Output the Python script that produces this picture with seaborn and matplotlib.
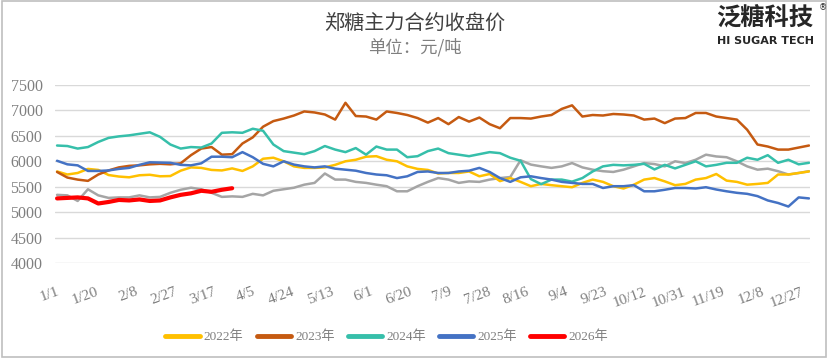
import matplotlib
matplotlib.use("Agg")
import matplotlib.pyplot as plt
import seaborn as sns
import pandas as pd
from matplotlib.patches import Rectangle

# 郑糖主力合约收盘价 (元/吨), one point every 5 days from 1/1
DAYS = list(range(0, 366, 5))

Y2021 = [5340, 5330, 5220, 5450, 5330, 5280, 5290, 5290, 5330, 5290,
         5300, 5380, 5440, 5480, 5450, 5380, 5300, 5310, 5300, 5360,
         5330, 5420, 5450, 5480, 5540, 5575, 5760, 5640, 5640, 5595,
         5575, 5540, 5510, 5410, 5410, 5510, 5595, 5670, 5640, 5575,
         5605, 5595, 5640, 5670, 5690, 6020, 5935, 5900, 5870, 5900,
         5965, 5880, 5835, 5805, 5790, 5835, 5900, 5965, 5945, 5900,
         6000, 5965, 6030, 6130, 6095, 6080, 6000, 5900, 5835, 5855,
         5805, 5740, 5770, 5805]

Y2022 = [5800, 5740, 5770, 5850, 5830, 5730, 5700, 5685, 5725, 5735,
         5705, 5710, 5815, 5880, 5870, 5830, 5820, 5860, 5810, 5900,
         6050, 6070, 6000, 5900, 5870, 5870, 5880, 5930, 6000, 6030,
         6090, 6100, 6030, 6000, 5900, 5850, 5830, 5760, 5770, 5770,
         5800, 5705, 5750, 5610, 5670, 5595, 5510, 5555, 5530, 5510,
         5490, 5575, 5640, 5595, 5510, 5465, 5540, 5640, 5670, 5605,
         5530, 5555, 5640, 5670, 5750, 5620, 5595, 5540, 5555, 5575,
         5740, 5740, 5770, 5800]

Y2023 = [5790, 5680, 5640, 5615, 5740, 5820, 5880, 5910, 5920, 5940,
         5950, 5940, 5960, 6120, 6250, 6280, 6130, 6140, 6350, 6470,
         6680, 6790, 6840, 6900, 6980, 6960, 6920, 6820, 7150, 6890,
         6880, 6820, 6980, 6950, 6910, 6850, 6760, 6850, 6730, 6870,
         6780, 6860, 6730, 6650, 6850, 6850, 6840, 6880, 6910, 7030,
         7100, 6880, 6910, 6900, 6930, 6920, 6900, 6820, 6840, 6750,
         6840, 6850, 6950, 6950, 6880, 6850, 6820, 6620, 6330, 6290,
         6230, 6230, 6270, 6310]

Y2024 = [6310, 6300, 6250, 6280, 6380, 6460, 6490, 6510, 6540, 6570,
         6480, 6330, 6250, 6280, 6270, 6350, 6560, 6570, 6560, 6640,
         6600, 6330, 6200, 6170, 6140, 6200, 6300, 6230, 6180, 6260,
         6130, 6290, 6230, 6230, 6080, 6100, 6200, 6250, 6160, 6130,
         6100, 6140, 6180, 6160, 6070, 6010, 5650, 5550, 5640, 5640,
         5600, 5670, 5800, 5900, 5930, 5920, 5930, 5950, 5840, 5930,
         5860, 5930, 6000, 5900, 5930, 5970, 5970, 6070, 6030, 6120,
         5970, 6030, 5940, 5970]

Y2025 = [6010, 5940, 5920, 5810, 5810, 5820, 5850, 5870, 5930, 5980,
         5975, 5970, 5930, 5920, 5960, 6090, 6090, 6080, 6180, 6080,
         5950, 5900, 6000, 5935, 5900, 5880, 5900, 5855, 5835, 5815,
         5770, 5740, 5725, 5670, 5705, 5790, 5800, 5770, 5770, 5800,
         5815, 5870, 5790, 5670, 5595, 5685, 5705, 5670, 5640, 5595,
         5575, 5555, 5555, 5475, 5510, 5510, 5530, 5410, 5410, 5440,
         5475, 5475, 5465, 5490, 5445, 5410, 5380, 5360, 5315, 5230,
         5180, 5110, 5290, 5270]

Y2026 = [5270, 5280, 5290, 5270, 5170, 5200, 5240, 5230, 5250, 5220,
         5230, 5290, 5340, 5370, 5420, 5400, 5440, 5470]

TICK_LABELS = ['1/1', '1/20', '2/8', '2/27', '3/17', '4/5', '4/24', '5/13',
               '6/1', '6/20', '7/9', '7/28', '8/16', '9/4', '9/23', '10/12',
               '10/31', '11/19', '12/8', '12/27']

SERIES = [
    ('2021年', Y2021, '#A5A5A5', 1.8),
    ('2022年', Y2022, '#FFC000', 1.8),
    ('2023年', Y2023, '#C55A11', 1.8),
    ('2024年', Y2024, '#36BFAA', 1.8),
    ('2025年', Y2025, '#4472C4', 1.8),
    ('2026年', Y2026, '#FF0000', 3.0),
]

sns.set_theme(style="white")
serif = ['Liberation Serif', 'DejaVu Serif', 'Noto Sans CJK SC']
plt.rcParams['font.family'] = serif

fig = plt.figure(figsize=(8.3, 3.58), dpi=100)
ax = fig.add_axes([55 / 830, 1 - 263 / 358, 755 / 830, 178 / 358])

for name, vals, color, lw in SERIES:
    df = pd.DataFrame({'day': DAYS[:len(vals)], 'price': vals})
    # 2021 is drawn but has no legend entry in the original
    label = '_nolegend_' if name == '2021年' else name
    sns.lineplot(data=df, x='day', y='price', color=color, lw=lw,
                 label=label, ax=ax, legend=False)

ax.set_xlim(-1, 365.5)
ax.set_ylim(4000, 7500)
ax.set_yticks(range(4000, 7501, 500))
ax.set_xticks(range(0, 366, 19))
ax.set_xticklabels(TICK_LABELS, rotation=20, ha='right', va='top',
                   rotation_mode='anchor')
ax.tick_params(axis='x', length=0, pad=16, labelsize=11, labelcolor='#7F7F7F')
ax.tick_params(axis='y', length=0, pad=9, labelsize=11.5, labelcolor='#7F7F7F')
for lab in ax.get_xticklabels() + ax.get_yticklabels():
    lab.set_family(serif)
ax.set_xlabel('')
ax.set_ylabel('')
ax.grid(axis='y', color='#D9D9D9', lw=1)
ax.grid(axis='x', visible=False)
for s in ax.spines.values():
    s.set_visible(False)

handles, labels = ax.get_legend_handles_labels()
leg = fig.legend(handles, labels, loc='center', bbox_to_anchor=(0.466, 0.059),
                 ncol=5, frameon=False, handlelength=2.6,
                 handletextpad=0.3, columnspacing=1.0,
                 prop={'family': serif, 'size': 9.5})
for t in leg.get_texts():
    t.set_color('#7F7F7F')
for h in leg.get_lines():
    h.set_linewidth(3.5)

cjk = ['Noto Sans CJK SC', 'DejaVu Sans']
fig.text(0.5, 1 - 24 / 358, '郑糖主力合约收盘价', ha='center', va='center',
         fontsize=14.5, color='#404040', family=cjk)
fig.text(0.5, 1 - 47 / 358, '单位：元/吨', ha='center', va='center',
         fontsize=12.5, color='#7F7F7F', family=cjk)

# logo
fig.text(765 / 830, 1 - 18 / 358, '泛糖科技', ha='center', va='center',
         fontsize=17.5, weight='bold', color='#262626', family=cjk)
fig.text(765 / 830, 1 - 41 / 358, 'HI SUGAR TECH', ha='center', va='center',
         fontsize=8, weight='bold', color='#262626', family=['DejaVu Sans'])
fig.text(823 / 830, 1 - 8 / 358, '®', ha='center', va='center',
         fontsize=6, color='#262626', family=['DejaVu Sans'])

fig.patches.append(Rectangle((0.002, 0.004), 0.993, 0.992, transform=fig.transFigure,
                             fill=False, edgecolor='#BFBFBF', lw=1.2))

fig.savefig('out.png', dpi=100)
